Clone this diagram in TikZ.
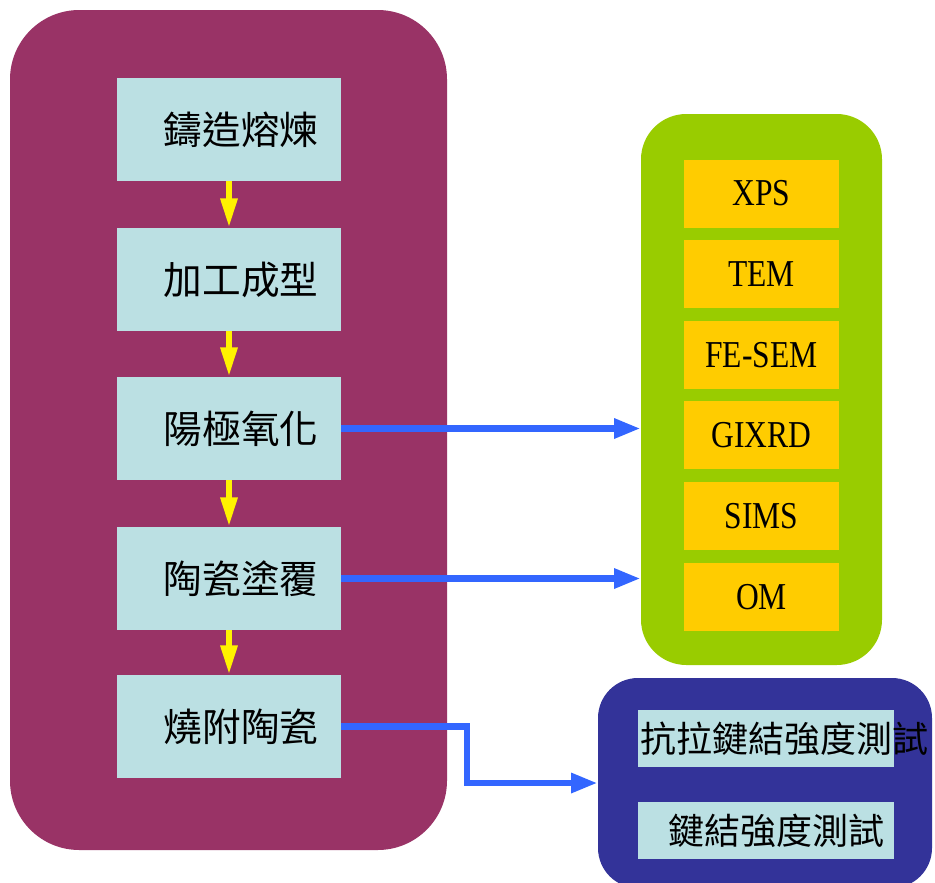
\documentclass[tikz,border=0pt]{standalone}
\usepackage{fontspec}
\setmainfont{Liberation Serif}
\newfontfamily\cjk{Noto Sans CJK TC}
\newfontfamily\techfont[FakeStretch=0.83]{Liberation Serif}
\usetikzlibrary{arrows.meta,calc}
\definecolor{procred}{HTML}{993366}
\definecolor{stepblue}{HTML}{BBE0E3}
\definecolor{chargreen}{HTML}{99CC00}
\definecolor{charorange}{HTML}{FFCC00}
\definecolor{testnavy}{HTML}{333399}
\definecolor{linkblue}{HTML}{3366FF}
\begin{document}
\begin{tikzpicture}[x=0.75pt,y=-0.75pt,
	stepbox/.style={fill=stepblue,minimum width=168pt,minimum height=77.25pt,inner sep=0pt,font=\cjk\fontsize{29}{30}\selectfont},
	probebox/.style={fill=charorange,minimum width=116.25pt,minimum height=51pt,inner sep=0pt,font=\techfont\fontsize{28.5}{30}\selectfont},
	testbox/.style={fill=stepblue,minimum width=192pt,minimum height=42.75pt,inner sep=0pt},
	testtext/.style={inner sep=0pt,font=\cjk\fontsize{27}{28}\selectfont},
	yarrow/.style={yellow,line width=4.5pt,-{Triangle[length=22pt,width=12pt]}},
	barrow/.style={linkblue,line width=5pt,-{Triangle[length=20pt,width=14pt]}}]
		\clip (0,0) rectangle (935,882);
		% groups
		\node[fill=procred,rounded corners=52pt,minimum width=327.75pt,minimum height=630pt] (procgrp) at (228.5,430) {};
		\node[fill=chargreen,rounded corners=34pt,minimum width=180.75pt,minimum height=413.25pt] (chargrp) at (761.5,389.5) {};
		\node[fill=testnavy,rounded corners=30pt,minimum width=250.5pt,minimum height=157.5pt] (testgrp) at (765,783) {};
		
		% process steps
		\node[stepbox] (cast) at (229,129.5) {\hspace*{18pt}鑄造熔煉};
		\node[stepbox] (form) at (229,279.5) {\hspace*{18pt}加工成型};
		\node[stepbox] (anod) at (229,428.5) {\hspace*{18pt}陽極氧化};
		\node[stepbox] (coat) at (229,578.5) {\hspace*{18pt}陶瓷塗覆};
		\node[stepbox] (fire) at (229,726.5) {\hspace*{18pt}燒附陶瓷};
		\draw[yarrow] (cast) -- (form);
		\draw[yarrow] (form) -- (anod);
		\draw[yarrow] (anod) -- (coat);
		\draw[yarrow] (coat) -- (fire);
		
		% analyses
		\foreach \k/\lab [count=\i] in {193.5/XPS,274/TEM,355/FE-SEM,435/GIXRD,516/SIMS,597/OM}{
			\node[probebox] (probe\i) at (761.5,\k) {\lab};}
		
		% bond tests
		\node[testbox] (tensile) at (766,738.5) {};
		\node[testtext,anchor=west] (tensiletext) at ([xshift=1.5pt]tensile.west) {抗拉鍵結強度測試};
		\node[testbox,testtext] (bond) at (766,830.5) {\hspace*{15pt}鍵結強度測試};
		
		\draw[barrow] (anod.east) -- (anod.east -| chargrp.west);
		\draw[barrow] (coat.east) -- (coat.east -| chargrp.west);
		\draw[barrow] (fire.east) -| ($(fire.east)!.49!(testgrp.west)$) |- (testgrp.west);%to tests
	\end{tikzpicture}
\end{document}
